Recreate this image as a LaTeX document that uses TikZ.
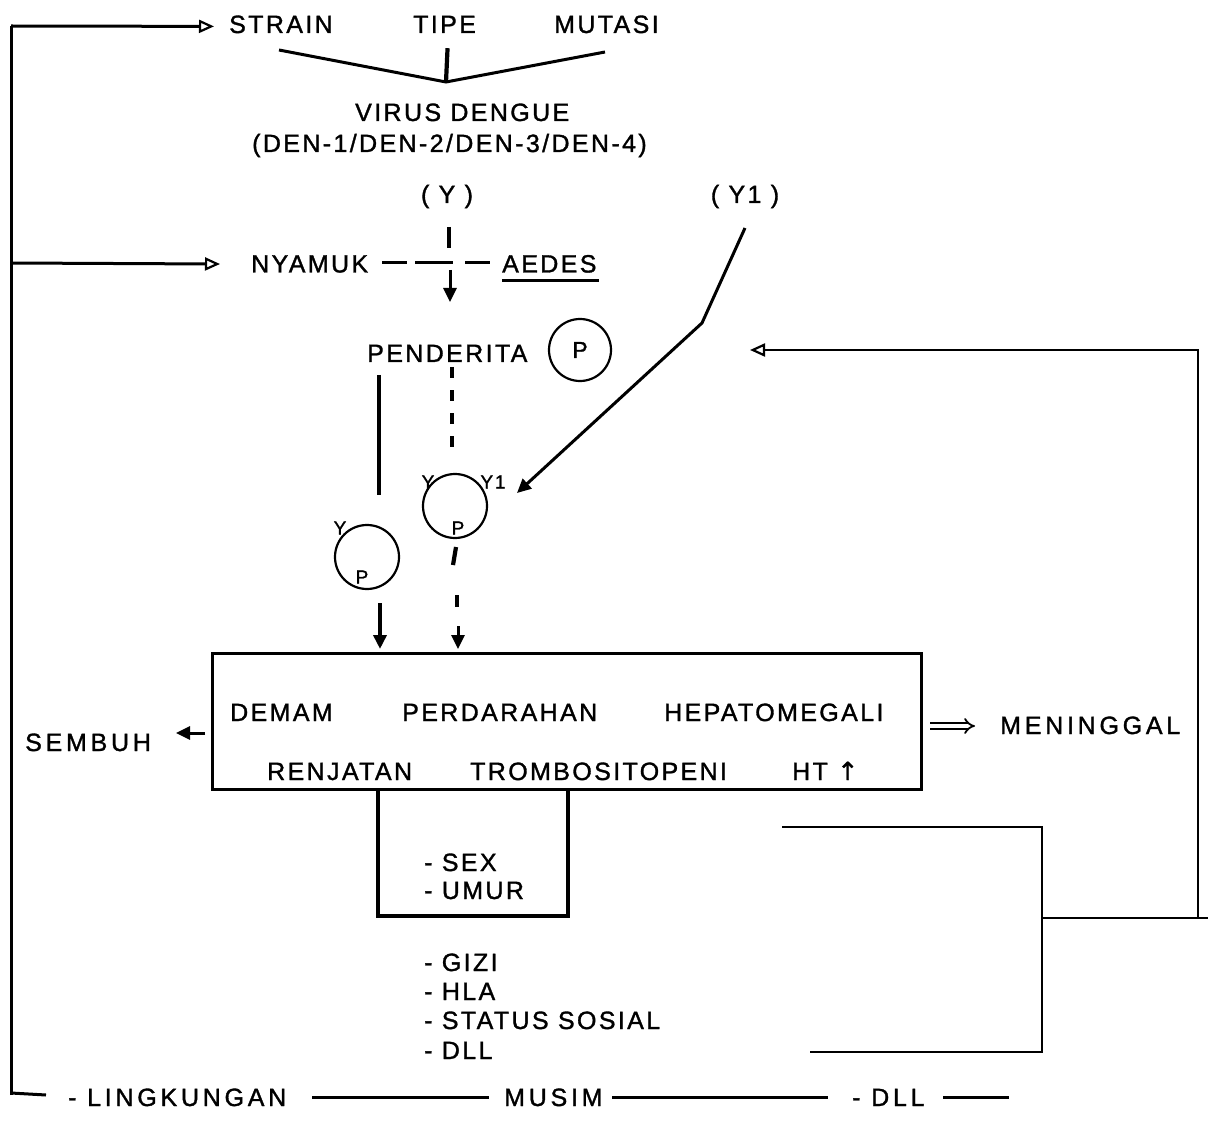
\documentclass[tikz,border=0pt]{standalone}
\usepackage{fontspec}
\setmainfont{Liberation Sans}[LetterSpace=9.5, FakeBold=1.3]
\newfontfamily\symfont{DejaVu Sans}[FakeBold=1.3]
\usetikzlibrary{arrows.meta,calc}
\tikzset{
  lbl/.style={font=\fontsize{25}{29}\selectfont, inner sep=0pt, anchor=base west},
  wide/.style={font=\fontsize{25}{29}\selectfont\addfontfeature{LetterSpace=15}, inner sep=0pt, anchor=base west},
  lblc/.style={font=\fontsize{25}{29}\selectfont, inner sep=0pt, anchor=base},
  sml/.style={font=\fontsize{19}{22}\selectfont, inner sep=0pt, anchor=center},
  ln/.style={line width=3pt},
  fine/.style={line width=2.2pt},
  heavy/.style={line width=4.2pt},
  dsh/.style={line width=4.2pt, dash pattern=on 11pt off 12pt},
  openarr/.style={-{Triangle[open,length=15pt,width=13pt,line width=2.2pt]}},
  fillarr/.style={-{Triangle[length=14pt,width=13pt]}},
  ring/.style={draw, circle, line width=2.2pt, inner sep=0pt},
}
\begin{document}
\begin{tikzpicture}[x=1pt,y=-1pt]
\useasboundingbox (0,0) rectangle (1208,1123);
% ---------- top texts
\node[lbl] (strain) at (229,33) {STRAIN};
\node[lbl] (tipe) at (413,33) {TIPE};
\node[lbl] (mutasi) at (554,33) {MUTASI};
\node[lbl] (virus) at (355,121) {VIRUS DENGUE};
\node[lbl] (den) at (252,152) {(DEN-1/DEN-2/DEN-3/DEN-4)};
\node[lblc] (y) at (447,203) {( Y )};
\node[lblc] (yone) at (745,203) {( Y1 )};
\node[lbl] (nyamuk) at (251,272.5) {NYAMUK};
\node[lbl] (aedes) at (502,272.5) {AEDES};
\node[lbl] (penderita) at (367,362) {PENDERITA};
\node[ring, minimum size=62pt, font=\fontsize{23}{26}\selectfont] (pc) at (580,350) {P};
% ---------- coordinates of the loop
\coordinate (tl) at (11,26);
\coordinate (ml) at (11,263);
\coordinate (bl) at (11,1095);
\coordinate (vl) at (279,50);
\coordinate (vm) at (446,82);
\coordinate (vr) at (605,52);
% left loop with arrows
\draw[ln] (bl) -- (tl);
\draw[ln, openarr] (tl) -- ($(strain.west)+(-15,2)$);
\draw[ln, openarr] (ml) -- ($(nyamuk.west)+(-31,0)$);
% V shape
\draw[ln] (vl) -- (vm) -- (vr);
\draw[heavy] ($(tipe.south)+(3,15)$) -- (vm);
% Y vertical crossing the NYAMUK line
\draw[heavy] (449,227) -- (449,248);
\draw[ln, fillarr] (450,270) -- (450,302);
\draw[ln] (382,263) -- (407,263);
\draw[ln] (415,263) -- (453,263);
\draw[ln] (465,263) -- (490,263);
\draw[ln] ($(aedes.south west)+(0,8)$) -- ($(aedes.south east)+(2,8)$);
% Y1 line
\coordinate (yonetop) at (745,228);
\coordinate (bend) at (702,323);
\coordinate (yoneend) at (517,493);
\draw[ln, fillarr] (yonetop) -- (bend) -- (yoneend);
% circles
\node[ring, minimum size=64pt] (c1) at (367,557) {};
\node[ring, minimum size=64pt] (c2) at (455,506) {};
\node[sml] (c1y) at (340,528) {Y};
\node[sml] (c1p) at (362,577) {P};
\node[sml] (c2y) at (428,482) {Y};
\node[sml] (c2yone) at (493,482) {Y1};
\node[sml] (c2p) at (458,528) {P};
% vertical lines from PENDERITA
\draw[heavy] (379,375) -- (379,495);
\draw[dsh] (452,367) -- (452,449);
\draw[heavy] (456,547) -- (453,565);
\draw[heavy] (457,595) -- (457,607);
\draw[ln, fillarr] (458,626) -- (458,649);
\draw[heavy, fillarr] (380,603) -- (380,649);
% main box
\node[draw, line width=3pt, minimum width=709pt, minimum height=136pt, anchor=north west, inner sep=0pt] (box) at (211,652) {};
\node[lbl] (demam) at (230,721) {DEMAM};
\node[lbl] (perd) at (402,721) {PERDARAHAN};
\node[lbl] (hepa) at (664,721) {HEPATOMEGALI};
\node[lbl] (renj) at (267,780) {RENJATAN};
\node[lbl] (tromb) at (470,780) {TROMBOSITOPENI};
\node[lbl] (ht) at (792,780) {HT {\symfont\addfontfeature{LetterSpace=0}↑}};
\node[wide] (sembuh) at (25,751) {SEMBUH};
\node[wide] (meninggal) at (1000,734) {MENINGGAL};
\draw[ln, fillarr] (205,733) -- (176,733);
\draw[line width=1.8pt, double, double distance=3.5pt, -{Implies}] (930,726) -- (975,726);
% small box under main box
\coordinate (sbl) at (378,916);
\coordinate (sbr) at (568,916);
\draw[heavy] (box.south -| sbl) -- (sbl) -- (sbr) -- (box.south -| sbr);
\node[lbl] (sex) at (424,871) {- SEX};
\node[lbl] (umur) at (424,899) {- UMUR};
\node[lbl] (gizi) at (424,971) {- GIZI};
\node[lbl] (hla) at (424,1000) {- HLA};
\node[lbl] (status) at (424,1029) {- STATUS SOSIAL};
\node[lbl] (dll) at (424,1059) {- DLL};
% right bracket and feedback
\coordinate (bt1) at (782,827);
\coordinate (bt2) at (1042,827);
\coordinate (bm) at (1042,918);
\coordinate (bb2) at (1042,1052);
\coordinate (bb1) at (810,1052);
\coordinate (re) at (1208,918);
\coordinate (rc) at (1198,918);
\coordinate (rt) at (1198,350);
\coordinate (fa) at (750,350);
\draw[fine] (bt1) -- (bt2) -- (bb2) -- (bb1);
\draw[fine] (bm) -- (re);
\draw[fine, openarr] (rc) -- (rt) -- (fa);
% bottom line
\node[wide] (lingk) at (68,1106) {- LINGKUNGAN};
\node[wide] (musim) at (504,1106) {MUSIM};
\node[wide] (dlltwo) at (852,1106) {- DLL};
\draw[ln] (11,1093) -- (46,1095);
\draw[ln] (312,1097) -- (489,1097);
\draw[ln] (612,1097) -- (828,1097);
\draw[ln] (943,1097) -- (1009,1097);
\end{tikzpicture}
\end{document}
